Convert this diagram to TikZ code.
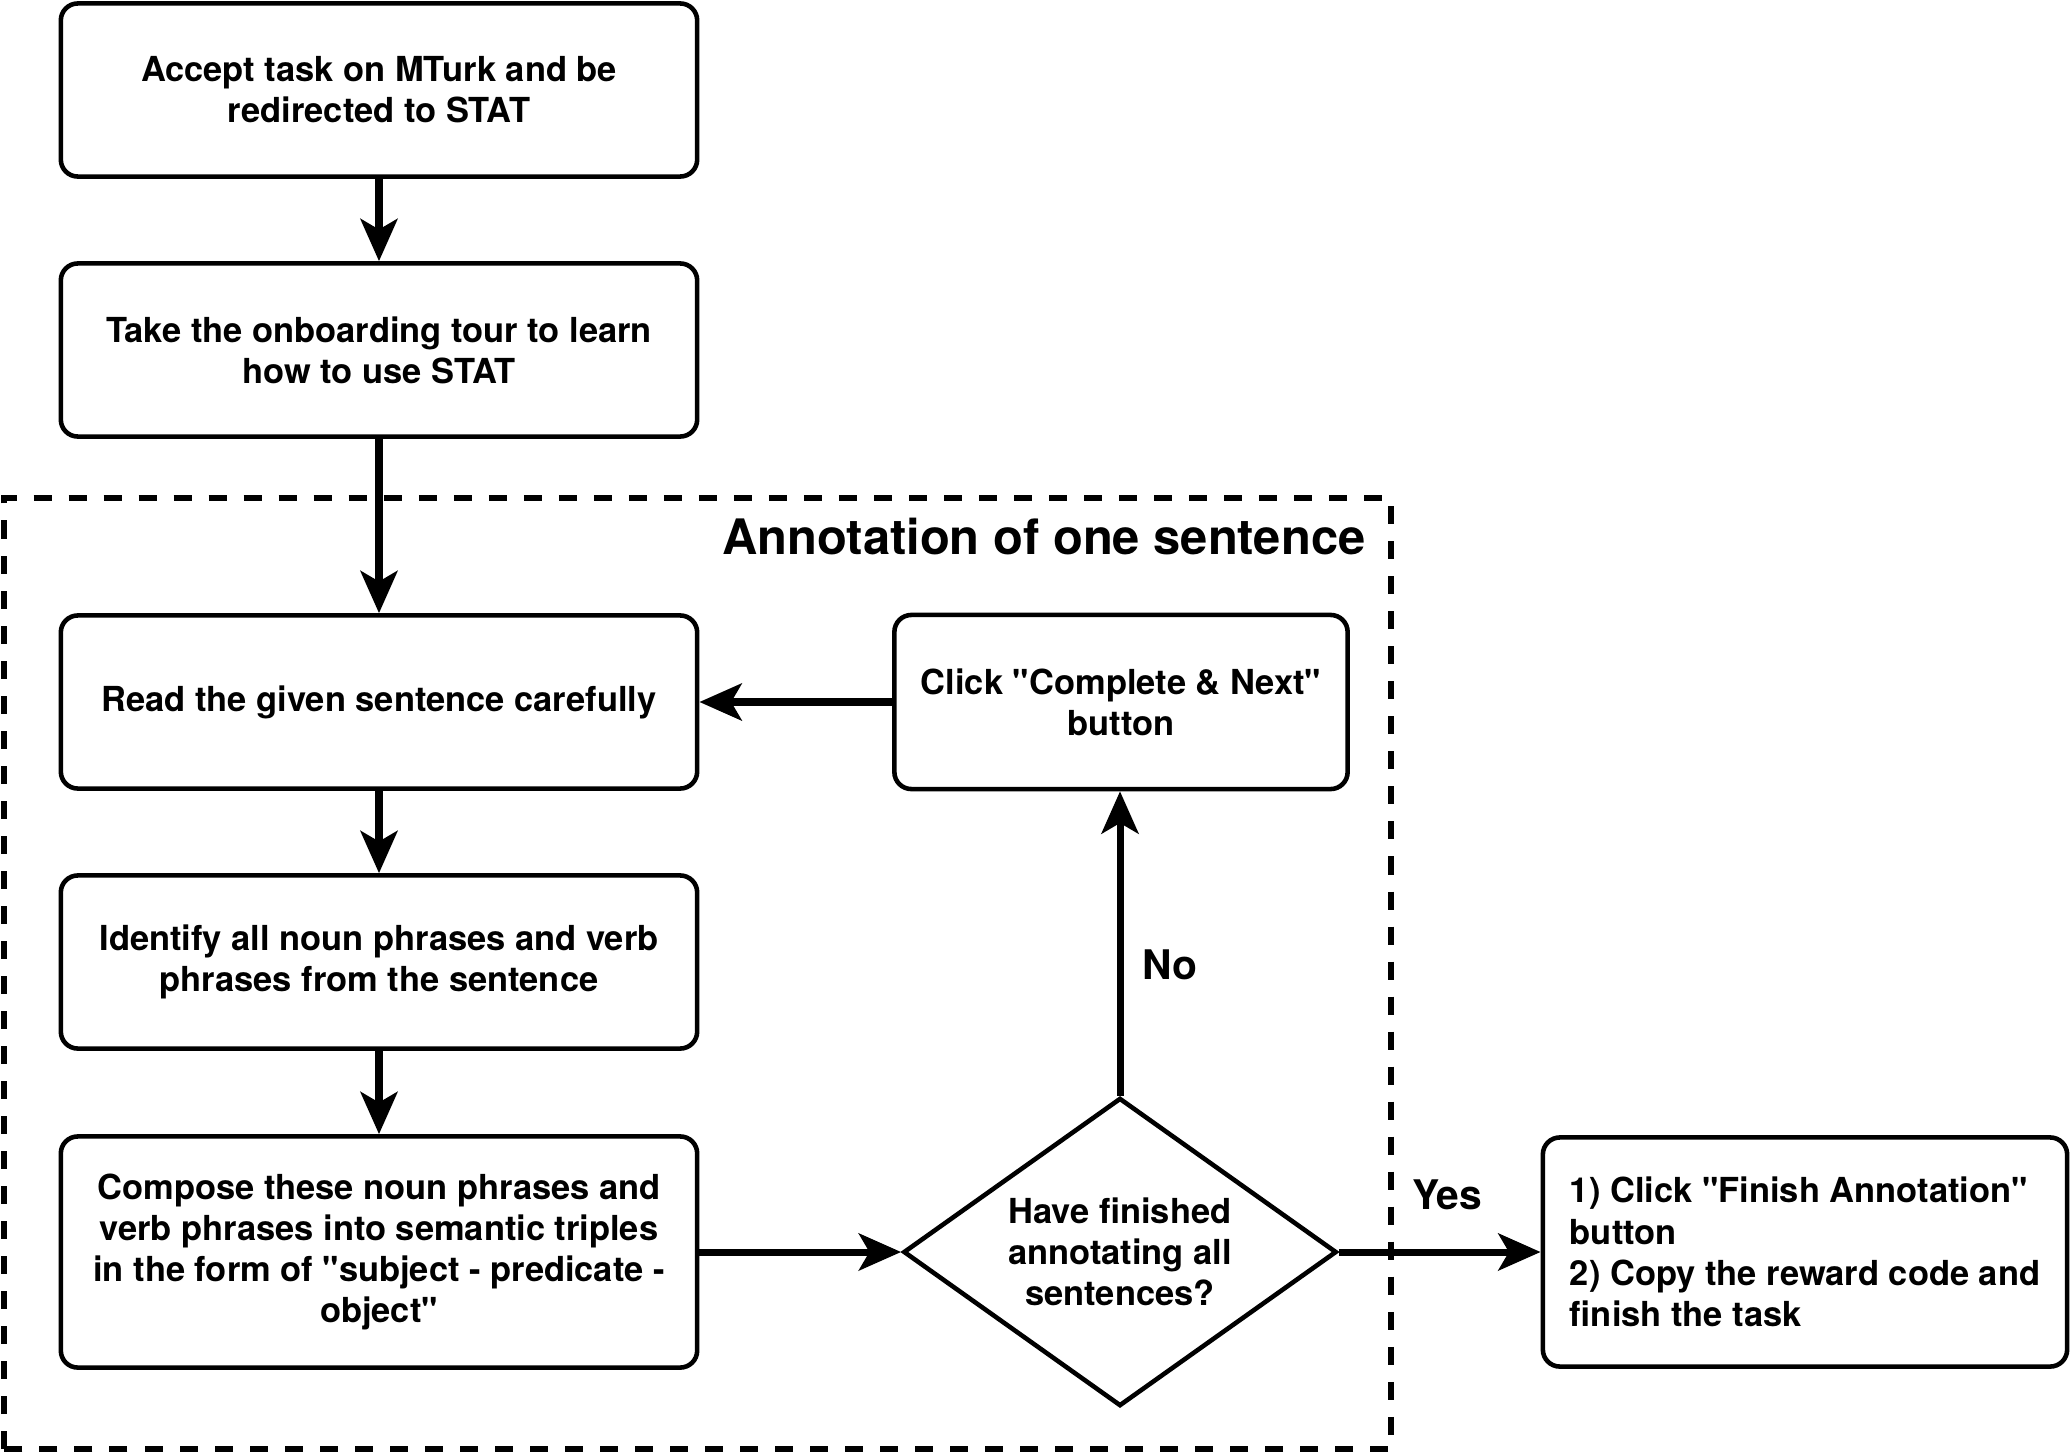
\documentclass[tikz,border=0pt]{standalone}
\usepackage{fontspec}
\setmainfont{TeX Gyre Heros}[Ligatures=TeXOff]
\usetikzlibrary{positioning,shapes.geometric,arrows.meta}
\newcommand\stepfont{\fontsize{9.8}{11.7}\selectfont\bfseries}
\tikzset{
  stepbox/.style  = {draw=black, rounded corners=0.17cm, line width=1.3pt, fill=white, align=center, font=\stepfont, inner sep=0pt},
  wide/.style     = {minimum width=6.36cm, minimum height=1.73cm},
  decide/.style   = {diamond, aspect=1.4, draw=black, line width=1.3pt, fill=white, align=center, font=\stepfont, inner sep=0pt, minimum width=4.33cm, minimum height=3.08cm},
  flow/.style     = {-{Stealth[length=12pt, width=10.5pt, inset=3pt]}, line width=2pt},
  frame/.style    = {draw=black, line width=1.5pt, dash pattern=on 0.18cm off 0.17cm},
  grouptitle/.style = {font=\fontsize{13.9}{16}\selectfont\bfseries, anchor=east, inner sep=0pt},
  answer/.style   = {font=\fontsize{11.6}{14}\selectfont\bfseries, inner sep=0pt},
}
\begin{document}
\begin{tikzpicture}[x=0.01cm, y=0.01cm]
  \useasboundingbox (0,0) rectangle (2070,1453);

  % the loop over sentences
  \draw[frame] (4,4) rectangle (1391,955);
  \node[grouptitle] (looptitle) at (1366,916) {Annotation of one sentence};

  \node[stepbox, wide] (accept) at (379,1363) {Accept task on MTurk and be\\redirected to STAT};
  \node[stepbox, wide] (tour) at (379,1103) {Take the onboarding tour to learn\\how to use STAT};
  \node[stepbox, wide] (read) at (379,751) {Read the given sentence carefully};
  \node[stepbox, wide] (identify) at (379,491) {Identify all noun phrases and verb\\phrases from the sentence};
  \node[stepbox, wide, minimum height=2.31cm] (compose) at (379,201) {Compose these noun phrases and\\verb phrases into semantic triples\\in the form of "subject - predicate -\\object"};

  \node[stepbox, minimum width=4.53cm, minimum height=1.74cm] (next) at (1121,751) {Click "Complete \& Next"\\button};
  \node[decide] (check) at (1120,201) {Have finished\\annotating all\\sentences?};
  \node[stepbox, align=left, minimum width=5.24cm, minimum height=2.29cm] (finish) at (1805,201) {1) Click "Finish Annotation"\\button\\2) Copy the reward code and\\finish the task};

  \draw[flow] (accept) -- (tour);
  \draw[flow] (tour) -- (read);
  \draw[flow] (read) -- (identify);
  \draw[flow] (identify) -- (compose);
  \draw[flow] (compose) -- (check);
  \draw[flow] (check.north) -- (check.north |- next.south);
  \draw[flow] (next) -- (read);
  \draw[flow] (check) -- (finish);

  \node[answer] (no) at (1170,488) {No};
  \node[answer] (yes) at (1447,258) {Yes};
\end{tikzpicture}
\end{document}
